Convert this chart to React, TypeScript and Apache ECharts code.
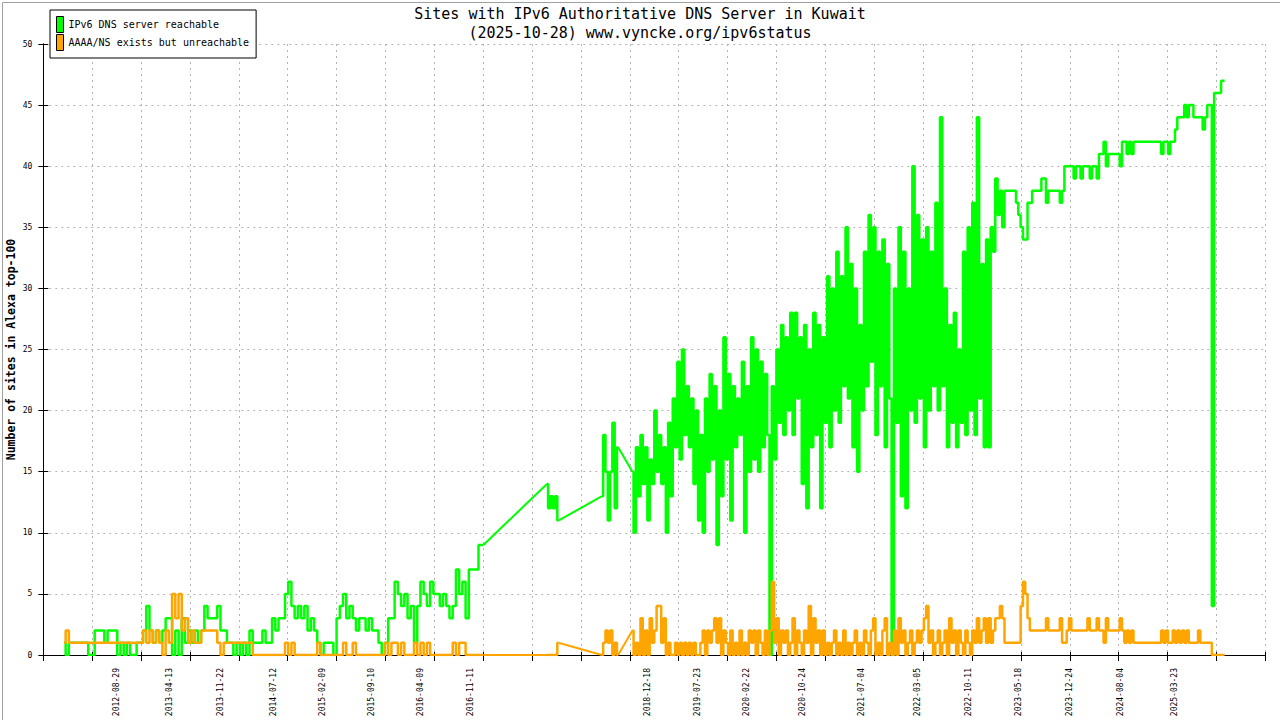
import React, { useEffect, useRef } from "react";
import * as echarts from "echarts";

// ---- axis / text content ----
const ORIGIN = "2011-10-15"; // left end of the time axis
const X_SPAN_DAYS = 5304; // right end of the time axis (days after ORIGIN)
const X_TICK_COUNT = 25;
const Y_MIN = 0;
const Y_MAX = 50;
const Y_STEP = 5;

const TITLE_LINE1 = "Sites with IPv6 Authoritative DNS Server in Kuwait";
const TITLE_LINE2 = "(2025-10-28) www.vyncke.org/ipv6status";
const Y_NAME = "Number of sites in Alexa top-100";
const GREEN_NAME = "IPv6 DNS server reachable";
const ORANGE_NAME = "AAAA/NS exists but unreachable";

const X_LABEL_DATES = [
  "2012-08-29", "2013-04-13", "2013-11-22", "2014-07-12", "2015-02-09",
  "2015-09-10", "2016-04-09", "2016-11-11", "2018-12-18", "2019-07-23",
  "2020-02-22", "2020-10-24", "2021-07-04", "2022-03-05", "2022-10-11",
  "2023-05-18", "2023-12-24", "2024-08-04", "2025-03-23",
];

// ---- data: each segment = start date, sampling step (days), values ----
const SEG1_START = "2012-01-13";
const SEG1_STEP = 14;
const SEG1_GREEN = [
  1, 0, 1, 1, 1, 1, 1, 1, 0, 0,
  2, 2, 2, 1, 2, 2, 2, 0, 1, 0,
  1, 0, 0, 1, 1, 2, 4, 2, 1, 2,
  1, 2, 3, 3, 0, 2, 0, 3, 1, 2,
  1, 2, 1, 2, 4, 3, 3, 3, 4, 2,
  2, 1, 1, 0, 1, 0, 1, 0, 2, 1,
  1, 1, 2, 1, 1, 3, 2, 3, 3, 5,
  6, 4, 3, 4, 3, 4, 2, 3, 2, 1,
  0, 1, 1, 1, 0, 3, 4, 5, 3, 4,
  3, 2, 3, 3, 2, 3, 2, 2, 1, 0,
  1, 3, 3, 6, 5, 4, 5, 3, 4, 1,
  4, 6, 5, 4, 6, 5, 5, 4, 5, 4,
  3, 4, 7, 5, 6, 3, 7, 7, 7, 9,
  9,
];
const SEG1_ORANGE = [
  1, 2, 1, 1, 1, 1, 1, 1, 1, 1,
  1, 1, 1, 1, 1, 1, 1, 1, 1, 1,
  1, 1, 1, 1, 1, 2, 1, 2, 1, 2,
  1, 0, 2, 1, 5, 3, 5, 2, 3, 1,
  2, 1, 1, 2, 2, 2, 2, 2, 1, 0,
  1, 1, 1, 1, 1, 1, 1, 1, 1, 0,
  0, 0, 0, 0, 0, 0, 0, 0, 0, 1,
  0, 1, 0, 0, 0, 0, 0, 0, 0, 1,
  0, 0, 0, 0, 0, 0, 0, 1, 0, 0,
  1, 0, 0, 0, 0, 0, 0, 0, 0, 0,
  1, 0, 1, 1, 0, 1, 0, 0, 0, 1,
  0, 1, 0, 1, 0, 0, 0, 0, 0, 0,
  0, 1, 0, 1, 1, 0, 0, 0, 0, 0,
  0,
];

const SEG2_START = "2017-10-09";
const SEG2_STEP = 10;
const SEG2_GREEN = [14, 12, 13, 12, 13, 11];
const SEG2_ORANGE = [0, 0, 0, 0, 0, 1];

const SEG3_START = "2018-06-05";
const SEG3_STEP = 10;
const SEG3_GREEN = [13, 18, 15, 11, 15, 19, 12, 17];
const SEG3_ORANGE = [0, 1, 2, 1, 2, 0, 1, 0];

const SEG4_START = "2018-10-15";
const SEG4_STEP = 10;
const SEG4_GREEN = [
  15, 10, 17, 13, 18, 14, 17, 11, 16, 14,
  20, 15, 18, 14, 17, 10, 19, 13, 21, 17,
  24, 16, 25, 18, 22, 17, 21, 14, 20, 11,
  18, 10, 21, 15, 23, 16, 22, 9, 20, 13,
  26, 16, 23, 11, 22, 17, 21, 18, 24, 10,
  22, 15, 26, 16, 25, 15, 24, 17, 23, 18,
  0, 22, 16, 25, 19, 27, 18, 26, 20, 28,
  18, 28, 21, 26, 14, 27, 12, 25, 17, 28,
  18, 27, 12, 26, 19, 31, 17, 30, 20, 33,
  19, 31, 22, 35, 21, 32, 17, 30, 15, 27,
  20, 33, 22, 36, 24, 35, 18, 33, 22, 34,
  17, 32, 21, 0, 30, 19, 35, 13, 33, 12,
  30, 20, 40, 19, 36, 21, 34, 17, 35, 20,
  33, 22, 37, 20, 44, 22, 30, 17, 27, 19,
  28, 17, 25, 19, 33, 18, 35, 20, 37, 18,
  44, 21, 32, 17, 34, 17, 35, 33,
  39, 36, 38, 35, 38, 38, 38, 38, 38, 37,
  36, 35, 34, 34, 37, 37, 38, 38, 38, 38,
  39, 39, 37, 38, 38, 38, 38, 38, 37, 38,
  40, 40, 40, 40, 39, 40, 40, 39, 40, 40,
  40, 39, 40, 40, 39, 41, 41, 42, 40, 41,
  41, 41, 41, 41, 40, 42, 42, 41, 42, 41,
  42, 42, 42, 42, 42, 42, 42, 42, 42, 42,
  42, 42, 41, 42, 42, 41, 42, 42, 43, 44,
  44, 44, 45, 44, 45, 45, 44, 44, 44, 44,
  43, 44, 45, 45, 4, 46, 46, 46, 47, 47,
];
const SEG4_ORANGE = [
  2, 0, 1, 0, 3, 0, 2, 0, 3, 1,
  2, 4, 4, 1, 3, 0, 1, 0, 0, 1,
  0, 1, 0, 1, 0, 1, 0, 1, 0, 0,
  1, 2, 0, 2, 1, 2, 3, 1, 3, 0,
  2, 1, 0, 2, 0, 1, 0, 2, 0, 1,
  0, 2, 1, 2, 0, 2, 1, 0, 2, 0,
  2, 6, 1, 3, 0, 2, 1, 2, 0, 1,
  3, 0, 2, 1, 0, 2, 1, 4, 0, 3,
  1, 2, 0, 2, 0, 1, 0, 1, 2, 0,
  1, 0, 2, 0, 1, 0, 1, 2, 0, 1,
  0, 2, 1, 0, 2, 3, 0, 1, 0, 2,
  3, 0, 1, 0, 2, 0, 3, 1, 2, 0,
  1, 2, 0, 1, 2, 1, 2, 3, 4, 1,
  2, 0, 1, 2, 0, 1, 2, 0, 3, 1,
  2, 0, 2, 1, 0, 2, 1, 0, 2, 1,
  3, 1, 2, 3, 1, 3, 1, 2, 3, 3,
  4, 3, 1, 1, 1, 1, 1, 1, 1, 4,
  6, 5, 3, 2, 2, 2, 2, 2, 2, 2,
  3, 2, 2, 2, 2, 2, 3, 1, 1, 2,
  3, 2, 2, 2, 2, 2, 2, 2, 3, 2,
  2, 2, 3, 2, 2, 1, 3, 2, 2, 2,
  2, 2, 3, 2, 1, 2, 1, 2, 1, 1,
  1, 1, 1, 1, 1, 1, 1, 1, 1, 1,
  2, 1, 2, 1, 1, 2, 1, 2, 1, 2,
  1, 2, 1, 1, 1, 1, 2, 1, 1, 1,
  1, 1, 0, 0, 0, 0, 0, 0,
];

// ---- helpers ----
const DAY_MS = 86400000;
const ORIGIN_MS = Date.parse(ORIGIN);
const toDay = (s: string) => Math.round((Date.parse(s) - ORIGIN_MS) / DAY_MS);
const fromDay = (d: number) => new Date(ORIGIN_MS + Math.round(d) * DAY_MS).toISOString().slice(0, 10);
const seg = (start: string, step: number, vals: number[]) => {
  const d0 = toDay(start);
  return vals.map((v, i) => [d0 + i * step, v] as [number, any]);
};

const GREEN_RUNS = [
  seg(SEG1_START, SEG1_STEP, SEG1_GREEN),
  seg(SEG2_START, SEG2_STEP, SEG2_GREEN),
  seg(SEG3_START, SEG3_STEP, SEG3_GREEN),
  seg(SEG4_START, SEG4_STEP, SEG4_GREEN),
];
const ORANGE_RUNS = [
  seg(SEG1_START, SEG1_STEP, SEG1_ORANGE),
  seg(SEG2_START, SEG2_STEP, SEG2_ORANGE),
  seg(SEG3_START, SEG3_STEP, SEG3_ORANGE),
  seg(SEG4_START, SEG4_STEP, SEG4_ORANGE),
];

// straight connecting lines across the periods without measurements
const bridgesOf = (runs: [number, any][][]) => {
  const out: [number, any][] = [];
  for (let k = 1; k < runs.length; k++) {
    const a = runs[k - 1][runs[k - 1].length - 1];
    const b = runs[k][0];
    if (out.length) out.push([a[0], "-"]);
    out.push(a, b);
  }
  return out;
};

const MONO = "'DejaVu Sans Mono', 'Liberation Mono', monospace";
const GRID_DASH = { color: "#b4b4b4", width: 1, type: [2, 4] as number[] };
const GREEN_COLOR = "#00ff00";
const ORANGE_COLOR = "#ffa500";

function lineSeries(name: string, color: string, data: any[], step: boolean, z: number) {
  return {
    name,
    type: "line",
    xAxisIndex: 0,
    yAxisIndex: 0,
    data,
    step: step ? "middle" : false,
    connectNulls: false,
    showSymbol: false,
    symbol: "none",
    color,
    lineStyle: { color, width: step ? 2.5 : 2 },
    itemStyle: { color },
    z,
  };
}

export default function App() {
  const ref = useRef<HTMLDivElement | null>(null);

  useEffect(() => {
    if (!ref.current) return;
    const chart = echarts.init(ref.current, null, { renderer: "svg" });
    const xInterval = X_SPAN_DAYS / X_TICK_COUNT;
    const baseX = { type: "value", min: 0, max: X_SPAN_DAYS, interval: xInterval, position: "bottom", offset: 0 };
    const baseY = { type: "value", min: Y_MIN, max: Y_MAX, interval: Y_STEP, offset: 0 };

    const series: any[] = [];
    GREEN_RUNS.forEach((r) => series.push(lineSeries(GREEN_NAME, GREEN_COLOR, r, true, 3)));
    series.push(lineSeries(GREEN_NAME, GREEN_COLOR, bridgesOf(GREEN_RUNS), false, 3));
    ORANGE_RUNS.forEach((r) => series.push(lineSeries(ORANGE_NAME, ORANGE_COLOR, r, true, 4)));
    series.push(lineSeries(ORANGE_NAME, ORANGE_COLOR, bridgesOf(ORANGE_RUNS), false, 4));

    const option: any = {
      animation: false,
      backgroundColor: "#ffffff",
      textStyle: { fontFamily: MONO, color: "#000" },
      title: {
        text: TITLE_LINE1 + "\n" + TITLE_LINE2,
        left: "center",
        top: 4,
        padding: 0,
        textStyle: { fontFamily: MONO, fontSize: 15, fontWeight: "normal", color: "#000", lineHeight: 19 },
      },
      legend: {
        data: [GREEN_NAME, ORANGE_NAME],
        orient: "vertical",
        left: 50,
        top: 10,
        padding: [6, 7, 7, 6],
        itemGap: 1,
        itemWidth: 7,
        itemHeight: 16,
        icon: "rect",
        borderColor: "#000",
        borderWidth: 1,
        backgroundColor: "#fff",
        itemStyle: { borderColor: "#000", borderWidth: 1 },
        textStyle: { fontFamily: MONO, fontSize: 10, color: "#000" },
        selectedMode: false,
      },
      grid: { left: 43.3, right: 14.7, top: 44, bottom: 65, containLabel: false, outerBoundsMode: "none" },
      xAxis: [
        {
          ...baseX,
          axisLine: { show: true, lineStyle: { color: "#000", width: 1 } },
          axisTick: { show: true, inside: false, length: 6, lineStyle: { color: "#000" } },
          axisLabel: { show: false },
          splitLine: { show: true, lineStyle: GRID_DASH },
        },
        {
          ...baseX,
          axisLine: { show: false },
          axisTick: { show: true, inside: true, length: 3, lineStyle: { color: "#000" } },
          axisLabel: { show: false },
          splitLine: { show: false },
        },
        {
          type: "value",
          min: 0,
          max: X_SPAN_DAYS,
          position: "bottom",
          offset: 0,
          axisLine: { show: false },
          axisTick: { show: false },
          splitLine: { show: false },
          axisLabel: {
            show: true,
            customValues: X_LABEL_DATES.map(toDay),
            formatter: (v: number) => fromDay(v),
            rotate: 90,
            margin: 13,
            fontSize: 8,
            fontFamily: MONO,
            color: "#000",
          },
        },
      ],
      yAxis: [
        {
          ...baseY,
          position: "left",
          name: Y_NAME,
          nameLocation: "middle",
          nameGap: 26,
          nameRotate: 90,
          nameMoveOverlap: false,
          nameTextStyle: { fontFamily: MONO, fontSize: 11.5, fontWeight: "bold", color: "#000" },
          axisLine: { show: true, lineStyle: { color: "#000", width: 1 } },
          axisTick: { show: true, inside: false, length: 5, lineStyle: { color: "#000" } },
          axisLabel: { show: true, margin: 11, fontSize: 8, fontFamily: MONO, color: "#000" },
          splitLine: { show: true, lineStyle: GRID_DASH },
        },
        {
          ...baseY,
          position: "left",
          axisLine: { show: false },
          axisTick: { show: true, inside: true, length: 5, lineStyle: { color: "#000" } },
          axisLabel: { show: false },
          splitLine: { show: false },
        },
        {
          ...baseY,
          position: "right",
          axisLine: { show: true, lineStyle: { color: "#000", width: 1 } },
          axisTick: { show: false },
          axisLabel: { show: false },
          splitLine: { show: false },
        },
      ],
      series,
      graphic: [
        {
          type: "rect",
          left: 0,
          top: 0,
          shape: { x: 0.5, y: 0.5, width: 1279, height: 719 },
          style: { fill: "none", stroke: "#a0a0a0", lineWidth: 1 },
          silent: true,
          z: 100,
        },
      ],
    };

    chart.setOption(option);
    return () => chart.dispose();
  }, []);

  return (
    <div
      ref={ref}
      style={{ position: "fixed", left: 0, top: 0, width: 1280, height: 720, background: "#fff" }}
    />
  );
}
